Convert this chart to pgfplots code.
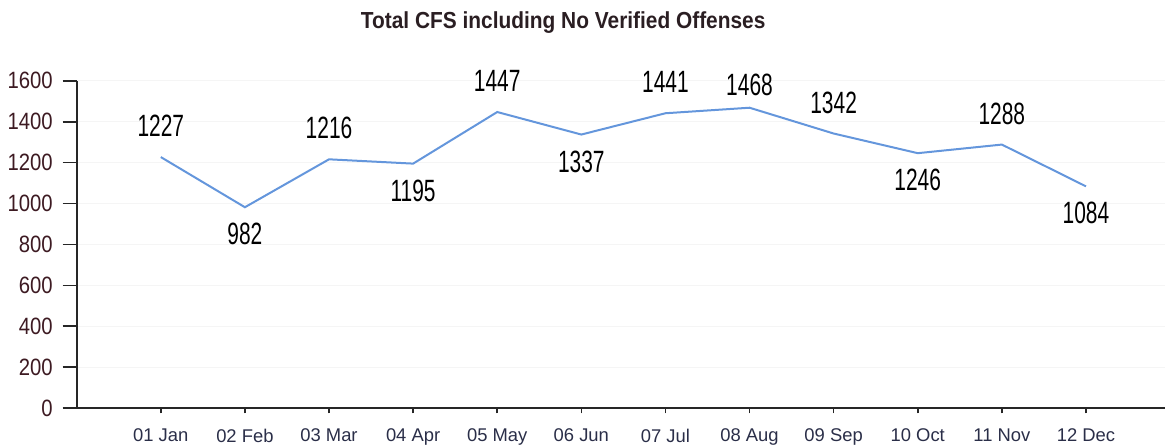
\documentclass[border=0pt]{standalone}
\usepackage{fontspec}
\setmainfont{Liberation Sans}
\newfontfamily\titlefont[FakeStretch=0.9]{Liberation Sans}
\newfontfamily\yfont[FakeStretch=0.86]{Liberation Sans}
\newfontfamily\labfont[FakeStretch=0.68]{Liberation Sans}
\usepackage{pgfplots}
\pgfplotsset{compat=1.18}
\definecolor{linec}{RGB}{100,150,220}
\definecolor{ytc}{HTML}{3D1A22}
\definecolor{xtc}{HTML}{2A2E48}
\definecolor{titc}{HTML}{2A1E22}
\begin{document}
\begin{tikzpicture}
\begin{axis}[
  scale only axis,
  width=544.15pt, height=163.8pt,
  xmin=-1, xmax=11.94,
  ymin=0, ymax=1600,
  clip=false,
  axis x line=bottom, axis y line=left,
  axis line style={-, line width=1pt, color=black!85},
  xtick={0,1,2,3,4,5,6,7,8,9,10,11},
  xticklabels={01 Jan,02 Feb,03 Mar,04 Apr,05 May,06 Jun,07 Jul,08 Aug,09 Sep,10 Oct,11 Nov,12 Dec},
  ytick={0,200,400,600,800,1000,1200,1400,1600},
  tick align=outside,
  xtick style={/pgfplots/major tick length=2.5pt, line width=0.8pt, color=black!85},
  ytick style={/pgfplots/major tick length=7pt, line width=0.9pt, color=black!85},
  /pgf/number format/1000 sep={},
  /pgf/number format/assume math mode=true,
  xticklabel style={font=\fontsize{9.2pt}{10pt}\selectfont, color=xtc, anchor=north, inner sep=0pt, yshift=-5.75pt},
  yticklabel style={font=\yfont\fontsize{11.8pt}{12pt}\selectfont, color=ytc, anchor=east, inner sep=0pt, xshift=-7.5pt},
  ymajorgrids, major grid style={color=black!4, line width=0.5pt},
  title={\titlefont\bfseries\fontsize{11.6pt}{13pt}\selectfont Total CFS including No Verified Offenses},
  title style={at={(0.447,1)}, anchor=base, yshift=19.85pt, color=titc, inner sep=0pt},
]
\addplot[color=linec, line width=1pt, mark=none] coordinates {
 (0,1227) (1,982) (2,1216) (3,1195) (4,1447) (5,1337) (6,1441) (7,1468) (8,1342) (9,1246) (10,1288) (11,1084)
};
% labels above
\addplot[draw=none, mark=none, nodes near coords,
  every node near coord/.append style={anchor=center, yshift=15.5pt, inner sep=0pt, font=\labfont\fontsize{15.4pt}{16pt}\selectfont, color=black}]
 coordinates {(0,1227) (2,1216) (4,1447) (6,1441) (8,1342) (10,1288)};
\addplot[draw=none, mark=none, nodes near coords,
  every node near coord/.append style={anchor=center, yshift=11.5pt, inner sep=0pt, font=\labfont\fontsize{15.4pt}{16pt}\selectfont, color=black}]
 coordinates {(7,1468)};
% labels below
\addplot[draw=none, mark=none, nodes near coords,
  every node near coord/.append style={anchor=center, yshift=-13.5pt, inner sep=0pt, font=\labfont\fontsize{15.4pt}{16pt}\selectfont, color=black}]
 coordinates {(1,982) (3,1195) (5,1337) (9,1246) (11,1084)};
\coordinate (bl) at (rel axis cs:0,0);
\coordinate (tr) at (rel axis cs:1,1);
\end{axis}
\pgfresetboundingbox
\path ([xshift=-38.35pt,yshift=-19.85pt]bl) rectangle ([yshift=40.35pt]tr);
\end{tikzpicture}
\end{document}
